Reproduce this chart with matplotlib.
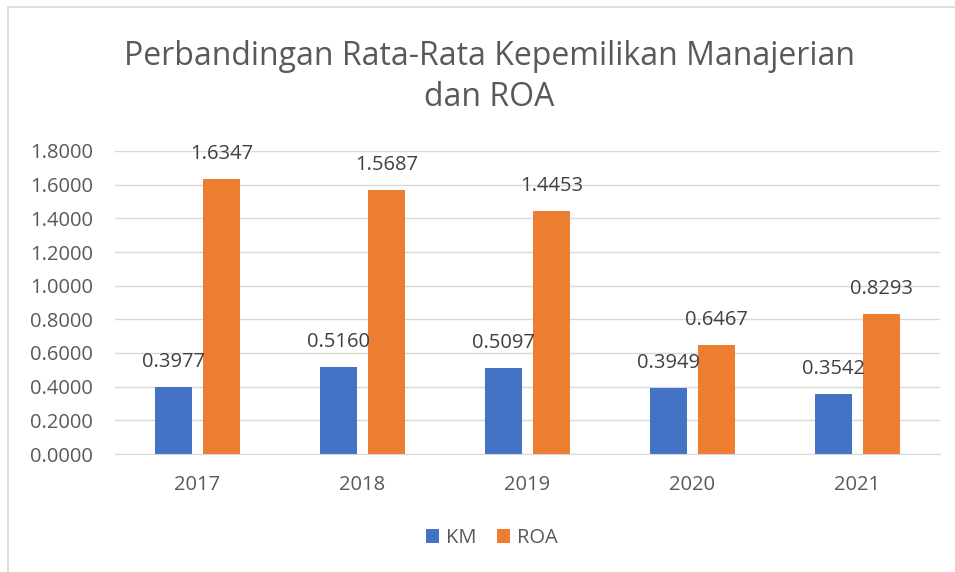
import matplotlib.pyplot as plt
import numpy as np
from matplotlib.patches import Rectangle

years = ['2017', '2018', '2019', '2020', '2021']
km = [0.3977, 0.5160, 0.5097, 0.3949, 0.3542]
roa = [1.6347, 1.5687, 1.4453, 0.6467, 0.8293]

plt.rcParams['font.family'] = ['Open Sans', 'DejaVu Sans']

W, H = 955, 572
fig = plt.figure(figsize=(W / 100, H / 100), dpi=100)

# chart border (left and top visible)
fig.patches.append(Rectangle((8 / W, -0.1), 1.2, (H - 7) / H + 0.1, transform=fig.transFigure,
                             fill=False, edgecolor='#D9D9D9', linewidth=1.2))

ax = fig.add_axes([115 / W, (H - 454) / H, (940 - 115) / W, (454 - 151) / H])

x = np.arange(len(years))
bw = 0.225
gap = 0.067
off = (bw + gap) / 2
b1 = ax.bar(x - off, km, bw, color='#4472C4', label='KM')
b2 = ax.bar(x + off, roa, bw, color='#ED7D31', label='ROA')

for bars, vals in [(b1, km), (b2, roa)]:
    for b, v in zip(bars, vals):
        ax.annotate(f'{v:.4f}', (b.get_x() + b.get_width() / 2, v), xytext=(0, 18),
                    textcoords='offset points', ha='center', va='center',
                    fontsize=14.5, color='#404040')

ax.set_xlim(-0.5, 4.5)
ax.set_ylim(0, 1.8)
ax.set_yticks(np.arange(0, 1.81, 0.2))
ax.set_yticklabels([f'{t:.4f}' for t in np.arange(0, 1.81, 0.2)])
ax.set_xticks(x)
ax.set_xticklabels(years)
ax.tick_params(axis='both', length=0, labelsize=14.5, colors='#595959')
ax.tick_params(axis='x', pad=15)
ax.tick_params(axis='y', pad=16)
ax.grid(axis='y', color='#D9D9D9', linewidth=1)
ax.set_axisbelow(True)
for s in ['top', 'right', 'left']:
    ax.spines[s].set_visible(False)
ax.spines['bottom'].set_color('#D9D9D9')

fig.text(489 / W, 1 - 77 / H, 'Perbandingan Rata-Rata Kepemilikan Manajerian\ndan ROA',
         ha='center', va='center', fontsize=23, color='#595959', linespacing=1.3)

fig.legend(loc='center', bbox_to_anchor=(492 / W, 1 - 538 / H), ncol=2, frameon=False,
           fontsize=14.5, labelcolor='#595959', handlelength=0.65, handleheight=0.65,
           columnspacing=1.0, handletextpad=0.35)

fig.savefig('out.png', dpi=100)
